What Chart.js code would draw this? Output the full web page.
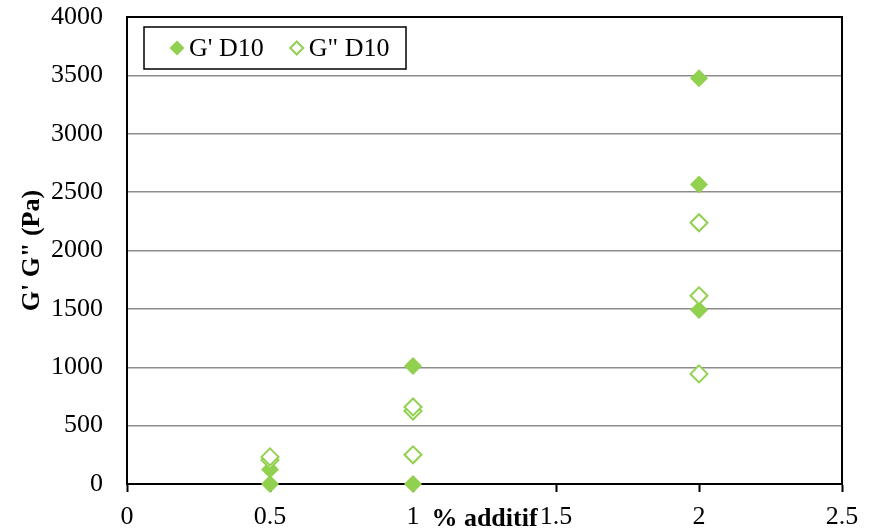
<!DOCTYPE html>
<html><head><meta charset="utf-8">
<script src="https://cdn.jsdelivr.net/npm/chart.js@4/dist/chart.umd.min.js"></script>
<style>html,body{margin:0;padding:0;background:#fff}#wrap{width:874px;height:532px}</style>
</head><body><div id="wrap"><canvas id="c" width="874" height="532"></canvas></div>
<script>
// ---- data ----
const seriesNames = ["G' D10", 'G" D10'];
const xGPrime = [0.5, 0.5, 1, 1, 2, 2, 2];
const gPrime = [0, 125, 0, 1010, 1490, 2565, 3475];
const xGSecond = [0.5, 0.5, 1, 1, 1, 2, 2, 2];
const gSecond = [205, 232, 250, 625, 660, 943, 1612, 2238];
const xTicks = [0, 0.5, 1, 1.5, 2, 2.5];
const yTicks = [0, 500, 1000, 1500, 2000, 2500, 3000, 3500, 4000];
const xTitle = '% additif';
const yTitle = 'G\' G" (Pa)';

const GREEN = '#92D050';
const FONT = "'Liberation Serif', 'Times New Roman', serif";

const toPts = (xs, ys) => xs.map((x, i) => ({x: x, y: ys[i]}));

function diamond(ctx, x, y, r) {
  ctx.beginPath();
  ctx.moveTo(x - r, y); ctx.lineTo(x, y - r); ctx.lineTo(x + r, y); ctx.lineTo(x, y + r);
  ctx.closePath();
}

const framePlugin = {
  id: 'frame',
  beforeDatasetsDraw(chart) {
    const {ctx, chartArea: a} = chart;
    ctx.save();
    ctx.strokeStyle = '#000';
    ctx.lineWidth = 2;
    ctx.beginPath();
    ctx.moveTo(a.left, a.top); ctx.lineTo(a.right, a.top); ctx.lineTo(a.right, a.bottom);
    ctx.stroke();
    ctx.restore();
  }
};

const legendPlugin = {
  id: 'boxLegend',
  afterDatasetsDraw(chart) {
    const {ctx, chartArea: a} = chart;
    const L = a.left + 17, T = a.top + 10, W = 262, H = 42;
    ctx.save();
    ctx.fillStyle = '#fff';
    ctx.fillRect(L, T, W, H);
    ctx.strokeStyle = '#000';
    ctx.lineWidth = 1.5;
    ctx.strokeRect(L, T, W, H);
    ctx.font = '26px ' + FONT;
    ctx.textBaseline = 'middle';
    ctx.textAlign = 'left';
    const cy = T + H / 2;
    let x = L + 33;
    chart.data.datasets.forEach((ds, i) => {
      diamond(ctx, x, cy, 7.5);
      if (i === 0) { ctx.fillStyle = GREEN; ctx.fill(); }
      else { ctx.fillStyle = '#fff'; ctx.fill(); ctx.strokeStyle = GREEN; ctx.lineWidth = 2; diamond(ctx, x, cy, 6.5); ctx.stroke(); }
      ctx.fillStyle = '#000';
      ctx.fillText(ds.label, x + 12, cy + 1);
      x += 12 + ctx.measureText(ds.label).width + 33;
    });
    ctx.restore();
  }
};

new Chart(document.getElementById('c'), {
  type: 'scatter',
  data: {
    datasets: [
      { label: seriesNames[0], data: toPts(xGPrime, gPrime), pointStyle: 'rectRot', pointRadius: 9, pointHoverRadius: 9,
        backgroundColor: GREEN, borderColor: GREEN, borderWidth: 0, order: 1, clip: false },
      { label: seriesNames[1], data: toPts(xGSecond, gSecond), pointStyle: 'rectRot', pointRadius: 8.5, pointHoverRadius: 8.5,
        backgroundColor: '#fff', borderColor: GREEN, borderWidth: 2, pointBorderWidth: 2, order: 0, clip: false }
    ]
  },
  options: {
    responsive: false,
    animation: false,
    layout: { padding: { top: 17, right: 32, left: 0, bottom: 0 } },
    plugins: { legend: { display: false }, tooltip: { enabled: false } },
    scales: {
      x: {
        type: 'linear', min: 0, max: 2.5,
        afterBuildTicks: s => { s.ticks = xTicks.map(v => ({value: v})); },
        afterFit: s => { s.height = 48; s.paddingLeft = 0; s.paddingRight = 0; },
        grid: { drawOnChartArea: false, drawTicks: true, tickLength: 8, tickColor: '#000', tickWidth: 2 },
        border: { color: '#000', width: 2 },
        ticks: { color: '#000', font: { family: FONT, size: 26 }, padding: 10, maxRotation: 0,
                 callback: v => String(v) },
        title: { display: true, text: xTitle, color: '#000', font: { family: FONT, size: 26, weight: 'bold' },
                 padding: { top: 0, bottom: -3 } }
      },
      y: {
        type: 'linear', min: 0, max: 4000,
        afterBuildTicks: s => { s.ticks = yTicks.map(v => ({value: v})); },
        afterFit: s => { s.width = 127; s.paddingTop = 0; s.paddingBottom = 0; },
        grid: { color: '#8c8c8c', lineWidth: 1.5, drawTicks: false },
        border: { color: '#000', width: 2 },
        ticks: { color: '#000', font: { family: FONT, size: 26 }, padding: 24, callback: v => String(v) },
        title: { display: true, text: yTitle, color: '#000', font: { family: FONT, size: 26, weight: 'bold' },
                 padding: { top: 17, bottom: 0 } }
      }
    }
  },
  plugins: [framePlugin, legendPlugin]
});
</script>
</body></html>
